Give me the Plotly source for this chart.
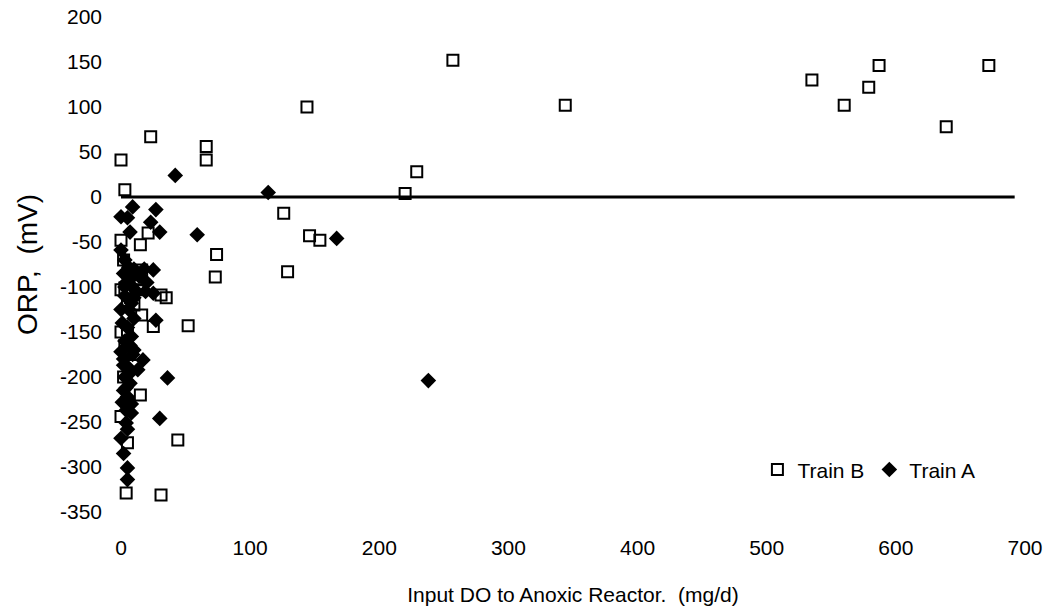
import plotly.graph_objects as go

# Train B (open squares)
train_b_x = [344, 535, 560, 579, 587, 639, 672, 257, 144, 229, 220, 126, 129, 146, 154,
             66, 66, 23, 0, 3, 74, 73,
             21, 15, 0, 16, 3, 13, 31, 0, 5, 35, 16, 25, 0, 5, 52, 15, 0, 44, 5, 4, 31,
             2, 8, 3, 7, 2, 5, 10, 12]
train_b_y = [102, 130, 102, 122, 146, 78, 146, 152, 100, 28, 4, -18, -83, -43, -48,
             56, 41, 67, 41, 8, -64, -89,
             -40, -53, -48, -81, -101, -103, -109, -103, -115, -112, -131, -144, -150, -148, -143, -220, -244, -270, -273, -329, -331,
             -70, -85, -165, -175, -200, -230, -120, -92]

# Train A (filled diamonds)
train_a_x = [42, 114, 167, 238, 59, 36, 30, 9, 0, 5, 27, 23, 30, 7, 0, 25, 25, 27, 17, 13,
             4, 0, 2, 5, 5, 0,
             3, 6, 2, 8, 4, 10, 18, 3, 8, 6, 10, 3, 7, 10, 2, 6, 3, 7, 2, 5, 8, 4, 12, 19, 8, 0,
             3, 7, 10, 14, 20, 1, 5, 9, 2, 6, 4, 8, 1, 5]
train_a_y = [24, 5, -46, -204, -42, -201, -246, -11, -22, -23, -14, -28, -39, -39, -59, -81, -107, -137, -181, -192,
             -251, -268, -285, -301, -314, -172,
             -70, -78, -85, -90, -95, -80, -80, -110, -118, -125, -135, -160, -165, -170, -180, -190, -200, -207, -215, -222, -230, -237, -105, -105, -155, -125,
             -100, -97, -112, -88, -95, -140, -145, -175, -187, -197, -212, -240, -228, -258]

# Zero reference line
zero_x = [0, 692]
zero_y = [0, 0]

x_ticks = [0, 100, 200, 300, 400, 500, 600, 700]
y_ticks = [200, 150, 100, 50, 0, -50, -100, -150, -200, -250, -300, -350]

FONT = "Liberation Sans, Arial, sans-serif"
NB = "\u00a0"

fig = go.Figure()
fig.add_trace(go.Scatter(x=zero_x, y=zero_y, mode="lines",
                         line=dict(color="black", width=3), showlegend=False,
                         hoverinfo="skip", cliponaxis=False))
fig.add_trace(go.Scatter(x=train_b_x, y=train_b_y, mode="markers", name="Train B",
                         marker=dict(symbol="square-open", size=11, color="black",
                                     line=dict(width=2, color="black")),
                         cliponaxis=False))
fig.add_trace(go.Scatter(x=train_a_x, y=train_a_y, mode="markers", name="Train A",
                         marker=dict(symbol="diamond", size=12, color="black",
                                     line=dict(width=0)),
                         cliponaxis=False))

fig.update_layout(
    width=1052, height=612,
    margin=dict(l=121, r=27, t=17, b=100),
    paper_bgcolor="white", plot_bgcolor="white",
    font=dict(family=FONT, color="black", size=21),
    showlegend=True,
    legend=dict(orientation="h", x=0.704, y=0.085, xanchor="left", yanchor="middle",
                font=dict(size=21, family=FONT), bgcolor="rgba(0,0,0,0)",
                itemwidth=30, tracegroupgap=0),
    xaxis=dict(range=[0, 700], tickvals=x_ticks, ticktext=[str(v) for v in x_ticks],
               showgrid=False, zeroline=False, showline=False, ticks="",
               tickfont=dict(size=21), ticklabelstandoff=21, automargin=False,
               title=dict(text="Input DO to Anoxic Reactor." + NB + " (mg/d)",
                          font=dict(size=21), standoff=29)),
    yaxis=dict(range=[-350, 200], tickvals=y_ticks, ticktext=[str(v) for v in y_ticks],
               showgrid=False, zeroline=False, showline=False, ticks="",
               tickfont=dict(size=21), ticklabelstandoff=18, automargin=False,
               title=dict(text="ORP," + NB + " (mV)", font=dict(size=28), standoff=14)),
)

fig.write_html("out.html")
